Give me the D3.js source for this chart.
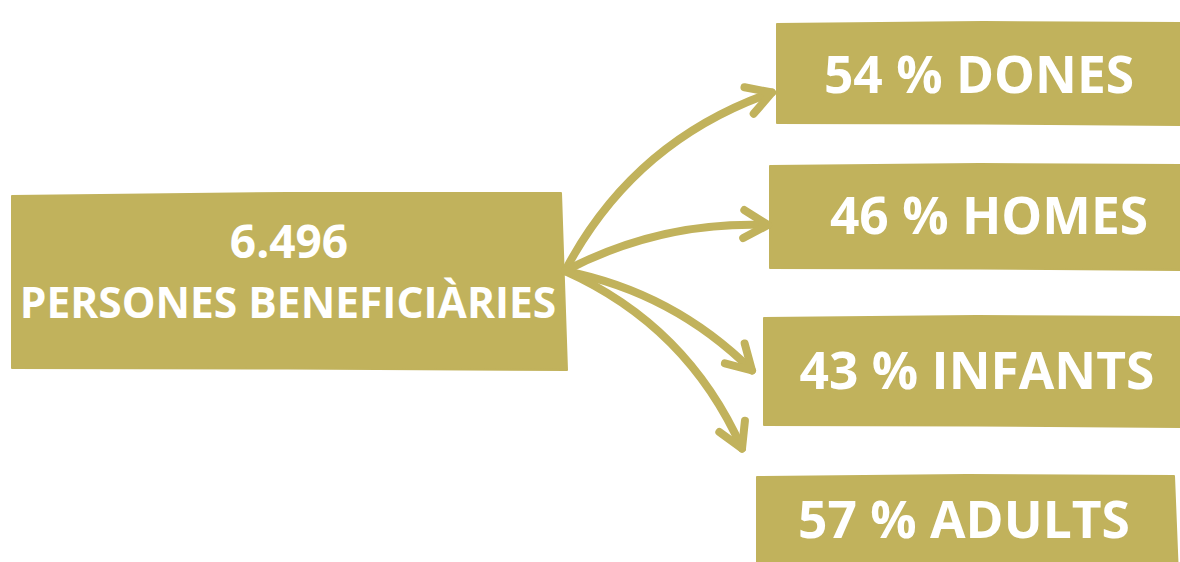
<!DOCTYPE html>
<html>
<head>
<meta charset="utf-8">
<script src="https://cdn.jsdelivr.net/npm/d3@7"></script>
<style>
  html, body { margin: 0; padding: 0; background: #ffffff; }
  svg { display: block; }
  text { font-family: "Open Sans", "Noto Sans", sans-serif; font-weight: 700; fill: #ffffff; }
</style>
</head>
<body>
<svg id="chart" width="1180" height="562"></svg>
<script>
// ---- data ----
const totalValue = 6496;
const totalLabel = "PERSONES BENEFICIÀRIES";
const categories = ["DONES", "HOMES", "INFANTS", "ADULTS"];
const shares = [54, 46, 43, 57];

// ---- layout (not data) ----
const W = 1180, H = 562;
const colour = "#c1b25c";
const fmt = d3.formatLocale({ decimal: ",", thousands: ".", grouping: [3], currency: ["", " €"] }).format(",d");

// source box
const src = { x0: 12, x1: 564, y0: 194, y1: 369 };
// target boxes
const boxLeft = [777, 770, 764, 757];
const boxTop = [23, 165, 317, 476];
const boxBottom = [124, 269, 426, 575];
const boxRight = [1190, 1190, 1190, 1177];
const labelCX = [979, 989, 977, 964];
const labelBase = [93, 234, 389, 538];
// arrow tip offsets relative to target box (left edge, vertical centre) and bend
const tipDX = [-5, -2, -12, -15];
const tipDY = [19, 8, -1, -77];
const bend = [27, 14, 16, 24];
const headLen = 28, headAngle = 30 * Math.PI / 180;

const svg = d3.select("#chart");

// slightly irregular "hand drawn" box
function roughBox(x0, y0, x1, y1, k) {
  const p = d3.path();
  p.moveTo(x0 + k[0], y0 + k[1]);
  p.lineTo((x0 + x1) / 2, y0 + k[2]);
  p.lineTo(x1 - 3, y0 - k[1] + 1);
  p.lineTo(x1 + k[3], y1 + k[4]);
  p.lineTo((x0 + x1) / 2, y1 + k[2] * 0.5);
  p.lineTo(x0 + k[0] * 0.5, y1 - 1);
  p.closePath();
  return p.toString();
}

const g = svg.append("g");

// source box
g.append("path")
  .attr("d", roughBox(src.x0, src.y0, src.x1, src.y1, [0, 2, -1, 3, 1]))
  .attr("fill", colour).attr("stroke", colour).attr("stroke-width", 2).attr("stroke-linejoin", "round");

const srcCX = (src.x0 + src.x1) / 2;
g.append("text").attr("x", srcCX + 1).attr("y", 258).attr("text-anchor", "middle")
  .style("font-size", "46px").text(fmt(totalValue));
g.append("text").attr("x", srcCX). attr("y", 318).attr("text-anchor", "middle")
  .style("font-size", "42.5px").text(totalLabel);

// target boxes
const items = categories.map((c, i) => ({ c, v: shares[i], i }));
const tg = g.selectAll("g.target").data(items).join("g").attr("class", "target");
tg.append("path")
  .attr("d", d => roughBox(boxLeft[d.i], boxTop[d.i], boxRight[d.i], boxBottom[d.i], [0, 1, -1, 1, 1]))
  .attr("fill", colour).attr("stroke", colour).attr("stroke-width", 2).attr("stroke-linejoin", "round");
tg.append("text")
  .attr("x", d => labelCX[d.i]).attr("y", d => labelBase[d.i]).attr("text-anchor", "middle")
  .style("font-size", "51.5px")
  .text(d => `${d.v} % ${d.c}`);

// arrows
const start = [src.x1 + 1, 271];
items.forEach(d => {
  const i = d.i;
  const cy = (boxTop[i] + boxBottom[i]) / 2;
  const end = [boxLeft[i] + tipDX[i], cy + tipDY[i]];
  const dx = end[0] - start[0], dy = end[1] - start[1];
  const len = Math.hypot(dx, dy);
  const nx = dy / len, ny = -dx / len;
  const ctrl = [(start[0] + end[0]) / 2 + nx * bend[i] * 2, (start[1] + end[1]) / 2 + ny * bend[i] * 2];
  const p = d3.path();
  p.moveTo(start[0], start[1]);
  p.quadraticCurveTo(ctrl[0], ctrl[1], end[0], end[1]);
  g.append("path").attr("d", p.toString())
    .attr("fill", "none").attr("stroke", colour).attr("stroke-width", 8).attr("stroke-linecap", "round");
  // arrow head
  const ang = Math.atan2(end[1] - ctrl[1], end[0] - ctrl[0]) + Math.PI;
  const h = d3.path();
  h.moveTo(end[0] + headLen * Math.cos(ang - headAngle), end[1] + headLen * Math.sin(ang - headAngle));
  h.lineTo(end[0], end[1]);
  h.lineTo(end[0] + headLen * Math.cos(ang + headAngle), end[1] + headLen * Math.sin(ang + headAngle));
  g.append("path").attr("d", h.toString())
    .attr("fill", "none").attr("stroke", colour).attr("stroke-width", 8)
    .attr("stroke-linecap", "round").attr("stroke-linejoin", "round");
});
</script>
</body>
</html>
